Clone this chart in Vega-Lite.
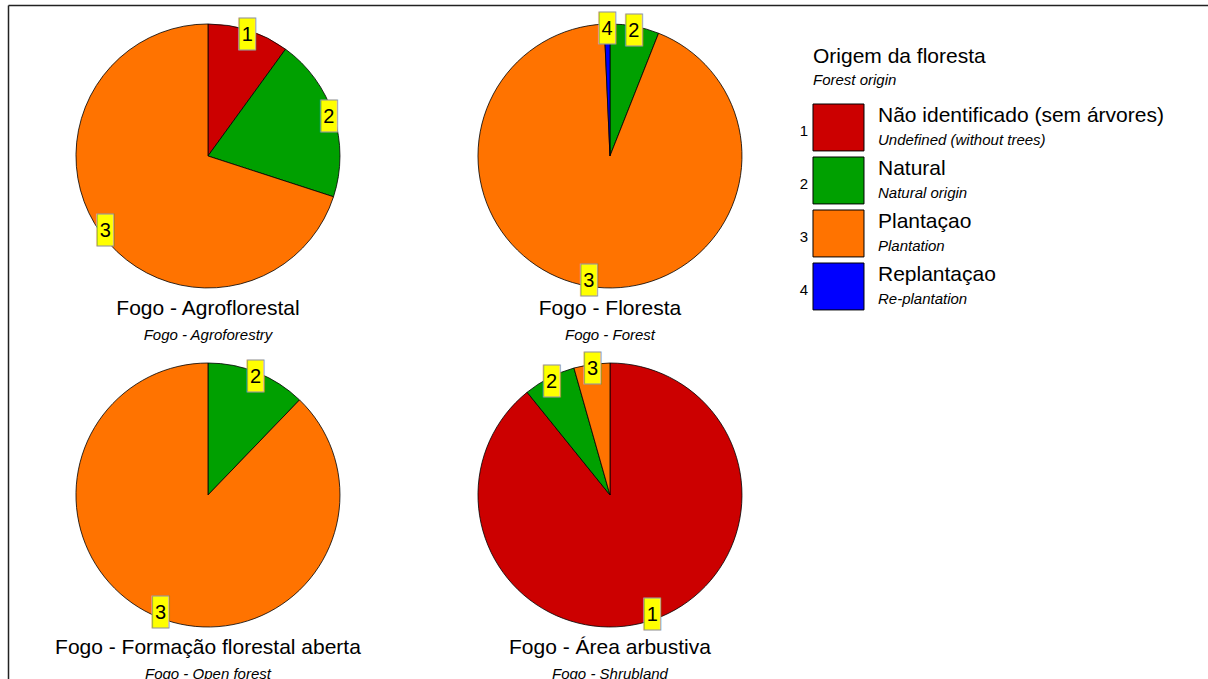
{
  "$schema": "https://vega.github.io/schema/vega-lite/v6.json",
  "width": 1200,
  "height": 674,
  "autosize": {"type": "none"},
  "padding": {"left": 8, "top": 5, "right": 0, "bottom": 0},
  "background": "white",
  "config": {
    "view": {"stroke": null},
    "text": {"font": "Liberation Sans", "color": "black"}
  },
  "datasets": {
    "pies": [
      {"pie": "a", "col": "L", "row": "T", "cat": "1", "value": 10},
      {"pie": "a", "col": "L", "row": "T", "cat": "2", "value": 20},
      {"pie": "a", "col": "L", "row": "T", "cat": "3", "value": 70},
      {"pie": "b", "col": "R", "row": "T", "cat": "2", "value": 6},
      {"pie": "b", "col": "R", "row": "T", "cat": "3", "value": 93.3},
      {"pie": "b", "col": "R", "row": "T", "cat": "4", "value": 0.7},
      {"pie": "c", "col": "L", "row": "B", "cat": "2", "value": 12.2},
      {"pie": "c", "col": "L", "row": "B", "cat": "3", "value": 87.8},
      {"pie": "d", "col": "R", "row": "B", "cat": "1", "value": 89.2},
      {"pie": "d", "col": "R", "row": "B", "cat": "2", "value": 6.4},
      {"pie": "d", "col": "R", "row": "B", "cat": "3", "value": 4.4}
    ],
    "titles": [
      {"col": "L", "row": "T", "title": "Fogo - Agroflorestal", "sub": "Fogo - Agroforestry"},
      {"col": "R", "row": "T", "title": "Fogo - Floresta", "sub": "Fogo - Forest"},
      {"col": "L", "row": "B", "title": "Fogo - Formação florestal aberta", "sub": "Fogo - Open forest"},
      {"col": "R", "row": "B", "title": "Fogo - Área arbustiva", "sub": "Fogo - Shrubland"}
    ],
    "legendhead": [
      {"col": "G", "row": "T", "title": "Origem da floresta", "sub": "Forest origin"}
    ],
    "legend": [
      {"col": "G", "row": "T", "cat": "1", "name": "Não identificado (sem árvores)", "sub": "Undefined (without trees)"},
      {"col": "G", "row": "T", "cat": "2", "name": "Natural", "sub": "Natural origin"},
      {"col": "G", "row": "T", "cat": "3", "name": "Plantaçao", "sub": "Plantation"},
      {"col": "G", "row": "T", "cat": "4", "name": "Replantaçao", "sub": "Re-plantation"}
    ]
  },
  "encoding": {
    "x": {
      "field": "col", "type": "nominal",
      "scale": {"type": "point", "domain": ["L", "M", "R", "G", "Z"], "padding": 0.985, "align": 0.505},
      "axis": {"orient": "top", "domain": true, "domainColor": "#222222", "domainWidth": 1.5, "ticks": false, "labels": false, "title": null, "grid": false}
    },
    "y": {
      "field": "row", "type": "nominal",
      "scale": {"type": "point", "domain": ["T", "B"], "padding": 0.494, "align": 0.4507},
      "axis": {"orient": "left", "domain": true, "domainColor": "#222222", "domainWidth": 1.5, "ticks": false, "labels": false, "title": null, "grid": false}
    }
  },
  "layer": [
    {
      "data": {"name": "pies"},
      "transform": [{"filter": "datum.pie === 'a'"}],
      "encoding": {"theta": {"field": "value", "type": "quantitative", "stack": true, "scale": {"domain": [0, 100]}}},
      "layer": [
        {"mark": {"type": "arc", "outerRadius": 132, "stroke": "black", "strokeWidth": 0.8},
         "encoding": {"color": {"field": "cat", "type": "nominal", "scale": {"domain": ["1", "2", "3", "4"], "range": ["#cc0000", "#00a000", "#ff7300", "#0000ff"]}, "legend": null}}},
        {"mark": {"type": "text", "radius": 127, "text": "█", "font": "DejaVu Sans Mono", "fontSize": 27, "fill": "#ffff00", "stroke": "#999999", "strokeWidth": 1, "align": "center", "baseline": "middle"},
         "encoding": {"detail": {"field": "cat", "type": "nominal"}}},
        {"mark": {"type": "text", "radius": 127, "fontSize": 20, "align": "center", "baseline": "middle"},
         "encoding": {"detail": {"field": "cat", "type": "nominal"}, "text": {"field": "cat", "type": "nominal"}}}
      ]
    },
    {
      "data": {"name": "pies"},
      "transform": [{"filter": "datum.pie === 'b'"}],
      "encoding": {"theta": {"field": "value", "type": "quantitative", "stack": true, "scale": {"domain": [0, 100]}}},
      "layer": [
        {"mark": {"type": "arc", "outerRadius": 132, "stroke": "black", "strokeWidth": 0.8},
         "encoding": {"color": {"field": "cat", "type": "nominal", "scale": {"domain": ["1", "2", "3", "4"], "range": ["#cc0000", "#00a000", "#ff7300", "#0000ff"]}, "legend": null}}},
        {"mark": {"type": "text", "radius": 127, "text": "█", "font": "DejaVu Sans Mono", "fontSize": 27, "fill": "#ffff00", "stroke": "#999999", "strokeWidth": 1, "align": "center", "baseline": "middle"},
         "encoding": {"detail": {"field": "cat", "type": "nominal"}}},
        {"mark": {"type": "text", "radius": 127, "fontSize": 20, "align": "center", "baseline": "middle"},
         "encoding": {"detail": {"field": "cat", "type": "nominal"}, "text": {"field": "cat", "type": "nominal"}}}
      ]
    },
    {
      "data": {"name": "pies"},
      "transform": [{"filter": "datum.pie === 'c'"}],
      "encoding": {"theta": {"field": "value", "type": "quantitative", "stack": true, "scale": {"domain": [0, 100]}}},
      "layer": [
        {"mark": {"type": "arc", "outerRadius": 132, "stroke": "black", "strokeWidth": 0.8},
         "encoding": {"color": {"field": "cat", "type": "nominal", "scale": {"domain": ["1", "2", "3", "4"], "range": ["#cc0000", "#00a000", "#ff7300", "#0000ff"]}, "legend": null}}},
        {"mark": {"type": "text", "radius": 127, "text": "█", "font": "DejaVu Sans Mono", "fontSize": 27, "fill": "#ffff00", "stroke": "#999999", "strokeWidth": 1, "align": "center", "baseline": "middle"},
         "encoding": {"detail": {"field": "cat", "type": "nominal"}}},
        {"mark": {"type": "text", "radius": 127, "fontSize": 20, "align": "center", "baseline": "middle"},
         "encoding": {"detail": {"field": "cat", "type": "nominal"}, "text": {"field": "cat", "type": "nominal"}}}
      ]
    },
    {
      "data": {"name": "pies"},
      "transform": [{"filter": "datum.pie === 'd'"}],
      "encoding": {"theta": {"field": "value", "type": "quantitative", "stack": true, "scale": {"domain": [0, 100]}}},
      "layer": [
        {"mark": {"type": "arc", "outerRadius": 132, "stroke": "black", "strokeWidth": 0.8},
         "encoding": {"color": {"field": "cat", "type": "nominal", "scale": {"domain": ["1", "2", "3", "4"], "range": ["#cc0000", "#00a000", "#ff7300", "#0000ff"]}, "legend": null}}},
        {"mark": {"type": "text", "radius": 127, "text": "█", "font": "DejaVu Sans Mono", "fontSize": 27, "fill": "#ffff00", "stroke": "#999999", "strokeWidth": 1, "align": "center", "baseline": "middle"},
         "encoding": {"detail": {"field": "cat", "type": "nominal"}}},
        {"mark": {"type": "text", "radius": 127, "fontSize": 20, "align": "center", "baseline": "middle"},
         "encoding": {"detail": {"field": "cat", "type": "nominal"}, "text": {"field": "cat", "type": "nominal"}}}
      ]
    },
    {
      "data": {"name": "titles"},
      "layer": [
        {"mark": {"type": "text", "fontSize": 21, "dy": 159, "align": "center", "baseline": "alphabetic"},
         "encoding": {"text": {"field": "title", "type": "nominal"}}},
        {"mark": {"type": "text", "fontSize": 15, "fontStyle": "italic", "dy": 184, "align": "center", "baseline": "alphabetic"},
         "encoding": {"text": {"field": "sub", "type": "nominal"}}}
      ]
    },
    {
      "data": {"name": "legendhead"},
      "layer": [
        {"mark": {"type": "text", "fontSize": 21, "dx": 2, "dy": -93, "align": "left", "baseline": "alphabetic"},
         "encoding": {"text": {"field": "title", "type": "nominal"}}},
        {"mark": {"type": "text", "fontSize": 15, "fontStyle": "italic", "dx": 2, "dy": -71, "align": "left", "baseline": "alphabetic"},
         "encoding": {"text": {"field": "sub", "type": "nominal"}}}
      ]
    },
    {
      "data": {"name": "legend"},
      "encoding": {
        "yOffset": {"field": "cat", "type": "nominal", "scale": {"type": "point", "domain": ["1", "2", "3", "4"], "range": [-28.5, 130.5], "padding": 0}}
      },
      "layer": [
        {"mark": {"type": "point", "shape": "M-1,-0.92H1V0.92H-1Z", "size": 2601, "filled": true, "opacity": 1, "stroke": "black", "strokeWidth": 1, "xOffset": 27.5},
         "encoding": {"color": {"field": "cat", "type": "nominal", "scale": {"domain": ["1", "2", "3", "4"], "range": ["#cc0000", "#00a000", "#ff7300", "#0000ff"]}, "legend": null}}},
        {"mark": {"type": "text", "fontSize": 15, "dx": -3, "dy": 8.5, "align": "right", "baseline": "alphabetic"},
         "encoding": {"text": {"field": "cat", "type": "nominal"}}},
        {"mark": {"type": "text", "fontSize": 21, "dx": 67, "dy": -5.5, "align": "left", "baseline": "alphabetic"},
         "encoding": {"text": {"field": "name", "type": "nominal"}}},
        {"mark": {"type": "text", "fontSize": 15, "fontStyle": "italic", "dx": 67, "dy": 17.5, "align": "left", "baseline": "alphabetic"},
         "encoding": {"text": {"field": "sub", "type": "nominal"}}}
      ]
    }
  ]
}
